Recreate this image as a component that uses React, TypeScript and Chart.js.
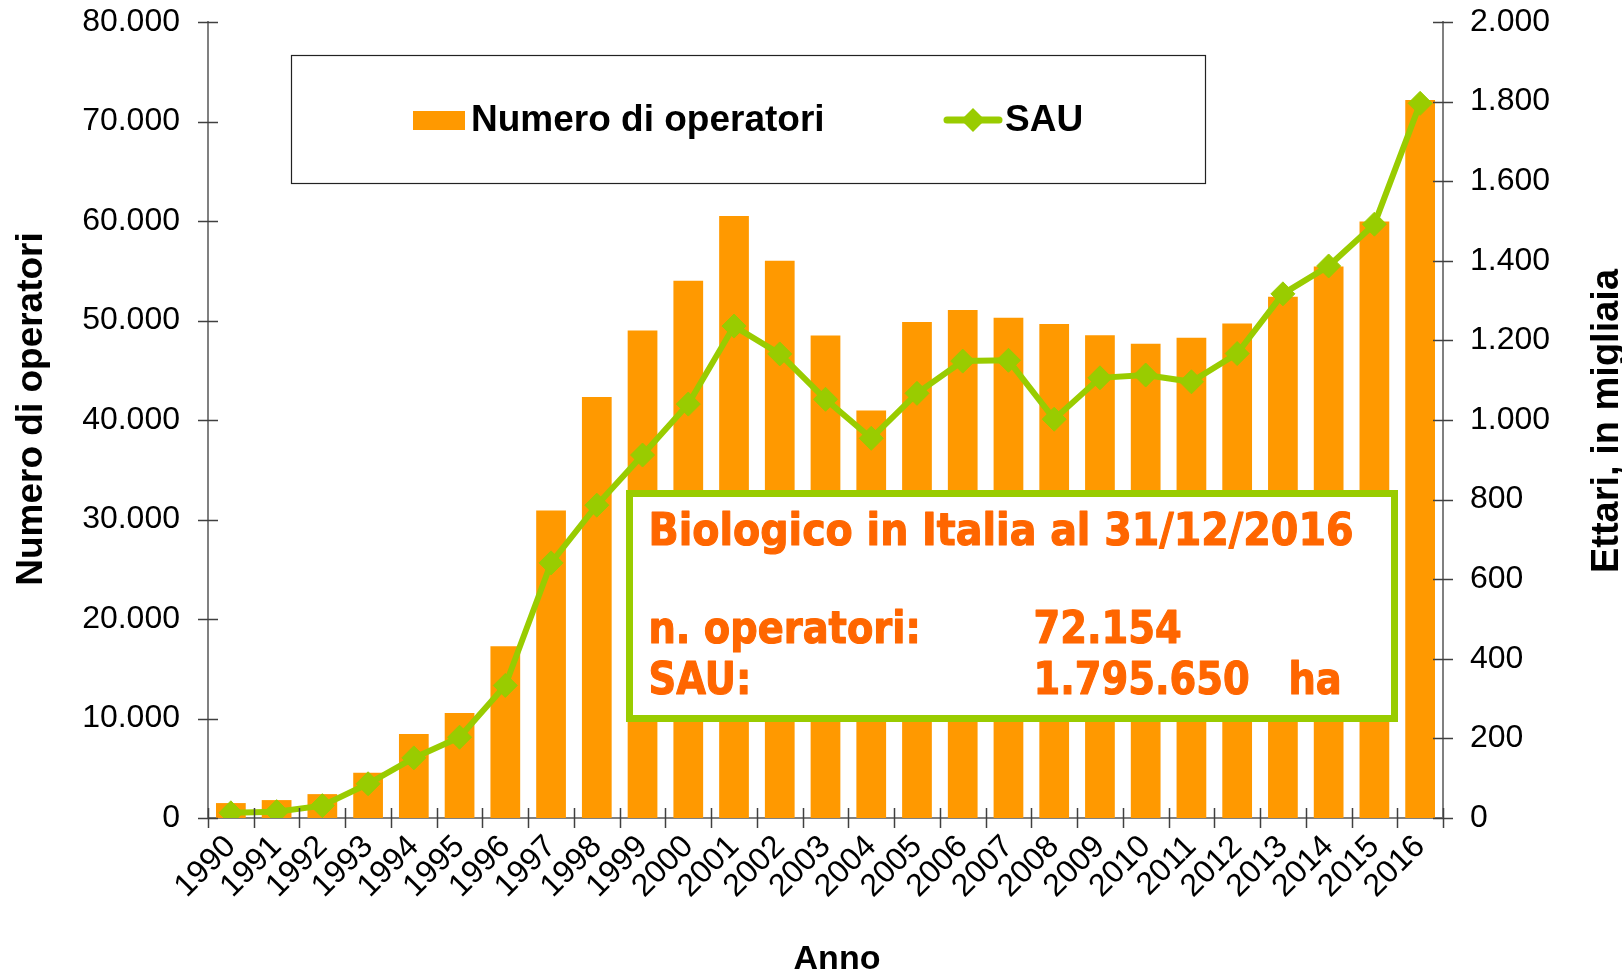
import React, { useEffect, useRef } from "react";
import { Chart, registerables } from "chart.js";

Chart.register(...registerables);

// ---------- data ----------
const years = [
  "1990", "1991", "1992", "1993", "1994", "1995", "1996", "1997", "1998",
  "1999", "2000", "2001", "2002", "2003", "2004", "2005", "2006", "2007",
  "2008", "2009", "2010", "2011", "2012", "2013", "2014", "2015", "2016",
];
const operatori = [
  1500, 1800, 2400, 4550, 8450, 10550, 17250, 30900, 42300, 49000, 54000,
  60500, 56000, 48500, 40965, 49859, 51065, 50276, 49654, 48509, 47663,
  48269, 49709, 52383, 55433, 59959, 72154,
];
const sauMigliaia = [
  13, 16, 31, 86, 151, 203, 333, 641, 786, 912, 1040, 1236, 1166, 1052, 954,
  1067, 1148, 1150, 1002, 1106, 1113, 1096, 1167, 1317, 1387, 1492, 1795.65,
];
const leftMax = 80000;
const leftStep = 10000;
const rightMax = 2000;
const rightStep = 200;

const seriesLabels = ["Numero di operatori", "SAU"];
const axisTitles = { left: "Numero di operatori", right: "Ettari, in migliaia", bottom: "Anno" };
const boxTitle = "Biologico in Italia al 31/12/2016";
const boxRows = [
  ["n. operatori:", "72.154", ""],
  ["SAU:", "1.795.650", "ha"],
];

const ORANGE = "#FF9900";
const GREEN = "#99CC00";
const BOX_TEXT = "#FF6600";
const FONT = '"Liberation Sans", Arial, sans-serif';

const fmt = (v: number | string) =>
  String(Math.round(Number(v))).replace(/\B(?=(\d{3})+(?!\d))/g, ".");

const overlayPlugin = {
  id: "overlay",
  afterDraw(chart: any) {
    const ctx = chart.ctx as CanvasRenderingContext2D;
    const area = chart.chartArea;
    const xs = chart.scales.x;
    const yl = chart.scales.y;
    const yr = chart.scales.y1;

    ctx.save();
    // crossing tick marks
    ctx.strokeStyle = "#404040";
    ctx.lineWidth = 1.5;
    ctx.beginPath();
    yl.ticks.forEach((t: any) => {
      const y = Math.round(yl.getPixelForValue(t.value)) + 0.5;
      ctx.moveTo(area.left - 10, y);
      ctx.lineTo(area.left + 10, y);
    });
    yr.ticks.forEach((t: any) => {
      const y = Math.round(yr.getPixelForValue(t.value)) + 0.5;
      ctx.moveTo(area.right - 10, y);
      ctx.lineTo(area.right + 10, y);
    });
    const n = years.length;
    for (let i = 0; i <= n; i++) {
      let x: number;
      if (i === 0) x = area.left;
      else if (i === n) x = area.right;
      else x = (xs.getPixelForValue(i - 1) + xs.getPixelForValue(i)) / 2;
      x = Math.round(x) + 0.5;
      ctx.moveTo(x, area.bottom - 10);
      ctx.lineTo(x, area.bottom + 10);
    }
    ctx.stroke();

    // axis titles
    ctx.fillStyle = "#000";
    ctx.textAlign = "center";
    ctx.textBaseline = "alphabetic";
    ctx.font = `bold 37px ${FONT}`;
    ctx.save();
    ctx.translate(42, 409);
    ctx.rotate(-Math.PI / 2);
    ctx.fillText(axisTitles.left, 0, 0);
    ctx.restore();

    ctx.font = `bold 38px ${FONT}`;
    ctx.save();
    ctx.translate(1618, 421);
    ctx.rotate(-Math.PI / 2);
    ctx.fillText(axisTitles.right, 0, 0);
    ctx.restore();

    ctx.font = `bold 34px ${FONT}`;
    ctx.fillText(axisTitles.bottom, 837, 969);

    // legend box
    ctx.fillStyle = "#fff";
    ctx.fillRect(291.5, 55.5, 914, 128);
    ctx.strokeStyle = "#222";
    ctx.lineWidth = 1.2;
    ctx.strokeRect(291.5, 55.5, 914, 128);
    ctx.fillStyle = ORANGE;
    ctx.fillRect(413, 111, 52, 19);
    ctx.fillStyle = "#000";
    ctx.textAlign = "left";
    ctx.font = `bold 37px ${FONT}`;
    ctx.fillText(seriesLabels[0], 471, 131);
    ctx.strokeStyle = GREEN;
    ctx.lineWidth = 7;
    ctx.lineCap = "round";
    ctx.beginPath();
    ctx.moveTo(947, 120);
    ctx.lineTo(999, 120);
    ctx.stroke();
    ctx.lineCap = "butt";
    ctx.fillStyle = GREEN;
    ctx.beginPath();
    ctx.moveTo(973, 108);
    ctx.lineTo(985, 120);
    ctx.lineTo(973, 132);
    ctx.lineTo(961, 120);
    ctx.closePath();
    ctx.fill();
    ctx.fillStyle = "#000";
    ctx.fillText(seriesLabels[1], 1005, 131);

    // annotation box
    ctx.fillStyle = "#fff";
    ctx.fillRect(626, 490, 772, 232);
    ctx.strokeStyle = GREEN;
    ctx.lineWidth = 7;
    ctx.strokeRect(629.5, 493.5, 765, 225);

    ctx.fillStyle = BOX_TEXT;
    ctx.strokeStyle = BOX_TEXT;
    ctx.lineWidth = 1.2;
    ctx.lineJoin = "round";
    ctx.font = `bold 45px "DejaVu Sans", Verdana, sans-serif`;
    const sx = 705 / ctx.measureText(boxTitle).width;
    const put = (txt: string, x: number, y: number, s: number) => {
      if (!txt) return;
      ctx.save();
      ctx.translate(x, y);
      ctx.scale(s, 1);
      ctx.fillText(txt, 0, 0);
      ctx.strokeText(txt, 0, 0);
      ctx.restore();
    };
    put(boxTitle, 648.5, 545, sx);
    const baselines = [643, 694];
    boxRows.forEach((row, i) => {
      put(row[0], 648.5, baselines[i], sx * 0.97);
      put(row[1], 1033.5, baselines[i], sx * 0.97);
      put(row[2], 1288.5, baselines[i], sx * 0.97);
    });
    ctx.restore();
  },
};

export default function App() {
  const canvasRef = useRef<HTMLCanvasElement | null>(null);

  useEffect(() => {
    document.body.style.margin = "0";
    const canvas = canvasRef.current;
    if (!canvas) return;
    const tickFont = { family: FONT, size: 32 };
    const chart = new Chart(canvas, {
      type: "bar",
      data: {
        labels: years,
        datasets: [
          {
            type: "line",
            label: seriesLabels[1],
            data: sauMigliaia,
            yAxisID: "y1",
            borderColor: GREEN,
            backgroundColor: GREEN,
            borderWidth: 6,
            tension: 0,
            pointStyle: "rectRot",
            pointRadius: 12,
            pointBackgroundColor: GREEN,
            pointBorderColor: GREEN,
            pointBorderWidth: 1,
            order: 0,
          } as any,
          {
            type: "bar",
            label: seriesLabels[0],
            data: operatori,
            yAxisID: "y",
            backgroundColor: ORANGE,
            borderWidth: 0,
            barPercentage: 0.65,
            categoryPercentage: 1.0,
            order: 1,
          } as any,
        ],
      },
      options: {
        responsive: false,
        animation: false,
        events: [],
        layout: { padding: { top: 22, left: 0, right: 0, bottom: 0 } },
        plugins: {
          legend: { display: false },
          tooltip: { enabled: false },
          title: { display: false },
        },
        scales: {
          x: {
            type: "category",
            offset: true,
            grid: { display: false },
            border: { display: true, color: "#808080", width: 2 },
            ticks: {
              autoSkip: false,
              minRotation: 45,
              maxRotation: 45,
              font: tickFont,
              color: "#000",
              padding: 2,
            },
            afterFit: (s: any) => {
              s.height = 155;
              s.paddingLeft = 0;
              s.paddingRight = 0;
            },
          },
          y: {
            position: "left",
            min: 0,
            max: leftMax,
            grid: { display: false },
            border: { display: true, color: "#808080", width: 2 },
            ticks: {
              stepSize: leftStep,
              callback: (v: any) => fmt(v),
              font: tickFont,
              color: "#000",
              padding: 20,
            },
            afterFit: (s: any) => {
              s.width = 208;
              s.paddingTop = 0;
              s.paddingBottom = 0;
            },
          },
          y1: {
            position: "right",
            min: 0,
            max: rightMax,
            grid: { display: false },
            border: { display: true, color: "#808080", width: 2 },
            ticks: {
              stepSize: rightStep,
              callback: (v: any) => fmt(v),
              font: tickFont,
              color: "#000",
              padding: 19,
            },
            afterFit: (s: any) => {
              s.width = 179;
              s.paddingTop = 0;
              s.paddingBottom = 0;
            },
          },
        },
      } as any,
      plugins: [overlayPlugin],
    });
    return () => chart.destroy();
  }, []);

  return (
    <div style={{ width: 1622, height: 973, background: "#fff" }}>
      <canvas ref={canvasRef} width={1622} height={973} style={{ display: "block" }} />
    </div>
  );
}
